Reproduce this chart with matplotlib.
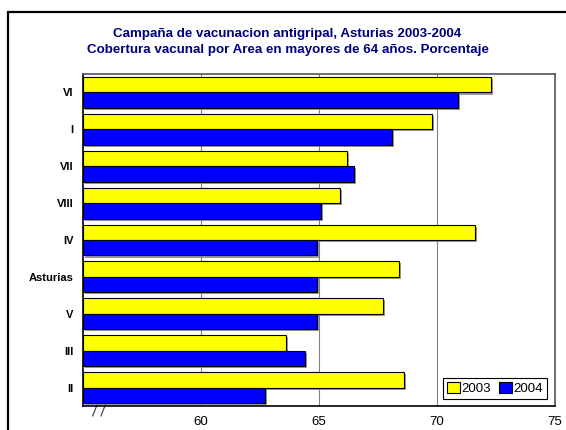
import numpy as np
import matplotlib
matplotlib.use("Agg")
import matplotlib.pyplot as plt
import matplotlib.patheffects as pe
from matplotlib.patches import Rectangle

plt.rcParams['font.family'] = ['Liberation Sans', 'DejaVu Sans']

# Cobertura vacunal (%) por area, de arriba a abajo
areas = ["VI", "I", "VII", "VIII", "IV", "Asturias", "V", "III", "II"]
cob_2003 = [72.3, 69.8, 66.2, 65.9, 71.6, 68.4, 67.7, 63.6, 68.6]
cob_2004 = [70.9, 68.1, 66.5, 65.1, 64.9, 64.9, 64.9, 64.4, 62.7]

fig = plt.figure(figsize=(5.66, 4.3), dpi=100)
ax = fig.add_axes([83/566, 1 - 406/430, 472/566, 332/430])

# marco exterior del grafico
fig.patches.append(Rectangle((8/566, -0.05), 1.2, 0.972 + 0.05, transform=fig.transFigure,
                             fill=False, edgecolor='black', linewidth=1.6))

y = np.arange(len(areas))
h = 0.42
sombra = [pe.SimplePatchShadow(offset=(1.5, -1.5), shadow_rgbFace='#808080', alpha=0.8), pe.Normal()]
b1 = ax.barh(y - h/2, np.array(cob_2003) - 55, left=55, height=h, color='#FFFF00',
             edgecolor='black', linewidth=0.8, label='2003', zorder=3)
b2 = ax.barh(y + h/2, np.array(cob_2004) - 55, left=55, height=h, color='#0000FF',
             edgecolor='black', linewidth=0.8, label='2004', zorder=3)
for bar in list(b1) + list(b2):
    bar.set_path_effects(sombra)

ax.set_xlim(55, 75)
ax.set_ylim(len(areas) - 0.5, -0.5)
ax.set_xticks([60, 65, 70, 75])
ax.set_yticks(y)
ax.set_yticklabels(areas, fontweight='bold', fontsize=8)
ax.tick_params(axis='x', length=0, pad=7, labelsize=9.5)
ax.tick_params(axis='y', length=0, pad=7)
ax.xaxis.grid(True, color='#808080', linewidth=0.8, zorder=0)
ax.set_axisbelow(True)
for s in ['left', 'bottom']:
    ax.spines[s].set_color('black')
    ax.spines[s].set_linewidth(1.2)
for s in ['top', 'right']:
    ax.spines[s].set_color('#555555')
    ax.spines[s].set_linewidth(1.2)

# marcas de corte del eje
for x0 in [0.0205, 0.038]:
    ax.plot([x0, x0 + 0.012], [-0.03, 0.013], color='#333333', linewidth=0.8,
            transform=ax.transAxes, clip_on=False)

fig.text(0.508, 1 - 34/430, "Campaña de vacunacion antigripal, Asturias 2003-2004",
         ha='center', va='center', fontsize=9.6, fontweight='bold', color='#000080')
fig.text(0.508, 1 - 50/430, "Cobertura vacunal por Area en mayores de 64 años. Porcentaje",
         ha='center', va='center', fontsize=9.6, fontweight='bold', color='#000080')

leg = ax.legend(loc='lower right', bbox_to_anchor=(0.983, 0.021), borderaxespad=0, ncol=2,
                fontsize=9.5, handlelength=1.0, handleheight=0.9, handletextpad=0.1,
                columnspacing=0.6, borderpad=0.3, fancybox=False, framealpha=1)
leg.get_frame().set_edgecolor('black')
leg.get_frame().set_linewidth(0.8)
for hnd in leg.legend_handles:
    hnd.set_path_effects([])

fig.savefig("out.png", dpi=100)
